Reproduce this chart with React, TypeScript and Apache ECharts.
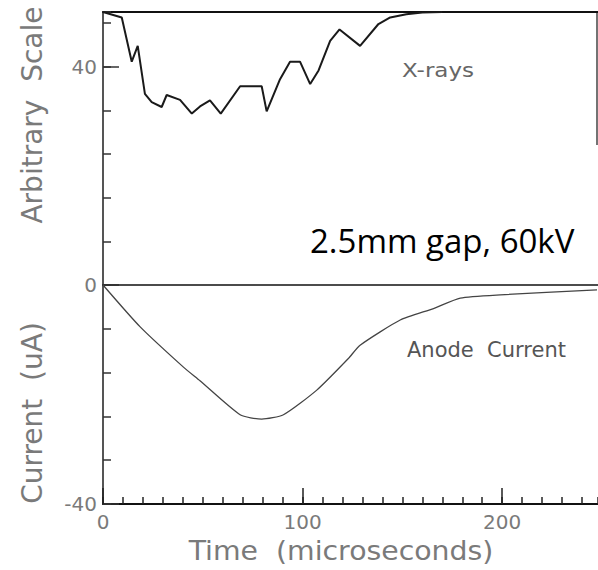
import React, { useEffect, useRef } from "react";
import * as echarts from "echarts";

// X-rays (arbitrary scale) vs time (microseconds)
const xrayTime = [0, 9.4, 14.4, 17.4, 21, 24.4, 29.4, 31.9, 38.6, 44.5, 48.6, 53.6, 59, 68.7, 79.5, 82, 88.7, 93.7, 98.7, 103.8, 108, 113.8, 118.5, 128.8, 138, 143.9, 152, 160, 170];
const xrayValue = [50, 49.0, 40.9, 43.8, 35.0, 33.5, 32.6, 34.8, 33.9, 31.4, 32.7, 33.8, 31.4, 36.4, 36.4, 31.8, 37.7, 40.9, 40.9, 36.8, 39.3, 44.7, 46.8, 43.8, 47.8, 49.0, 49.6, 49.9, 50];

// Anode current (uA) vs time (microseconds)
const currentTime = [0, 18.5, 40.3, 48.6, 68.7, 79.5, 90.4, 107.1, 123, 128.8, 148.9, 165.6, 179, 199, 247.5];
const currentValue = [0, -7.6, -15.0, -17.5, -23.7, -24.5, -23.7, -19.2, -13.4, -11.0, -6.4, -4.3, -2.4, -1.8, -0.9];

const xMin = 0;
const xMax = 248;
const upperY = [0, 50];
const lowerY = [-40, 0];
const upperLabels = [40];
const lowerLabels = [0, -40];
const xLabels = [0, 100, 200];

const labelColor = "#7a7a7a";
const labelFont = "DejaVu Sans";

export default function App() {
  const ref = useRef<HTMLDivElement>(null);

  useEffect(() => {
    if (!ref.current) return;
    const chart = echarts.init(ref.current, null, { renderer: "svg" });

    const hiddenAxisBase = {
      axisLabel: { show: false },
      splitLine: { show: false },
    };

    const option: any = {
      animation: false,
      backgroundColor: "#ffffff",
      grid: [
        { left: 103, top: 12, width: 495, height: 273 },
        { left: 103, top: 285, width: 495, height: 219 },
      ],
      xAxis: [
        {
          type: "value", gridIndex: 0, position: "top", min: xMin, max: xMax,
          axisLine: { onZero: false, lineStyle: { color: "#111", width: 2 } },
          axisTick: { show: false }, ...hiddenAxisBase,
        },
        {
          type: "value", gridIndex: 0, position: "bottom", min: xMin, max: xMax,
          axisLine: { onZero: false, lineStyle: { color: "#111", width: 1.5 } },
          axisTick: { show: false }, ...hiddenAxisBase,
        },
        {
          type: "value", gridIndex: 1, position: "bottom", min: xMin, max: xMax, interval: 100,
          axisLine: { onZero: false, lineStyle: { color: "#111", width: 2 } },
          axisTick: { show: true, inside: true, length: 16, lineStyle: { color: "#222", width: 1.5 } },
          axisLabel: {
            show: true, margin: 8, color: labelColor, fontFamily: labelFont, fontSize: 20,
            showMaxLabel: false,
            formatter: (v: number) => (xLabels.includes(v) ? String(v) : ""),
          },
          splitLine: { show: false },
        },
        {
          type: "value", gridIndex: 1, position: "bottom", min: xMin, max: xMax, interval: 10,
          axisLine: { show: false, onZero: false },
          axisTick: { show: true, inside: true, length: 7, lineStyle: { color: "#222", width: 1.5 } },
          ...hiddenAxisBase,
        },
      ],
      yAxis: [
        {
          type: "value", gridIndex: 0, position: "left", min: upperY[0], max: upperY[1], interval: 40,
          axisLine: { show: true, onZero: false, lineStyle: { color: "#555", width: 2 } },
          axisTick: { show: true, inside: true, length: 16, lineStyle: { color: "#333", width: 1.5 } },
          axisLabel: {
            show: true, margin: 6, color: labelColor, fontFamily: labelFont, fontSize: 20,
            showMaxLabel: false,
            formatter: (v: number) => (upperLabels.includes(v) ? String(v) : ""),
          },
          splitLine: { show: false },
        },
        {
          type: "value", gridIndex: 0, position: "left", min: upperY[0], max: upperY[1], interval: 8,
          axisLine: { show: false, onZero: false },
          axisTick: { show: true, inside: true, length: 8, lineStyle: { color: "#333", width: 1.5 } },
          ...hiddenAxisBase,
        },
        {
          type: "value", gridIndex: 1, position: "left", min: lowerY[0], max: lowerY[1], interval: 40,
          axisLine: { show: true, onZero: false, lineStyle: { color: "#555", width: 2 } },
          axisTick: { show: true, inside: true, length: 16, lineStyle: { color: "#333", width: 1.5 } },
          axisLabel: {
            show: true, margin: 6, color: labelColor, fontFamily: labelFont, fontSize: 20,
            formatter: (v: number) => (lowerLabels.includes(v) ? String(v) : ""),
          },
          splitLine: { show: false },
        },
        {
          type: "value", gridIndex: 1, position: "left", min: lowerY[0], max: lowerY[1], interval: 8,
          axisLine: { show: false, onZero: false },
          axisTick: { show: true, inside: true, length: 8, lineStyle: { color: "#333", width: 1.5 } },
          ...hiddenAxisBase,
        },
      ],
      series: [
        {
          name: "X-rays", type: "line", xAxisIndex: 0, yAxisIndex: 0,
          data: xrayTime.map((t, i) => [t, xrayValue[i]]),
          showSymbol: false, symbol: "none",
          lineStyle: { color: "#1a1a1a", width: 2 },
        },
        {
          name: "Anode Current", type: "line", xAxisIndex: 2, yAxisIndex: 2,
          data: currentTime.map((t, i) => [t, currentValue[i]]),
          showSymbol: false, symbol: "none", smooth: 0.2,
          lineStyle: { color: "#444", width: 1.3 },
        },
      ],
      graphic: [
        {
          type: "line", shape: { x1: 597, y1: 12, x2: 597, y2: 145 },
          style: { stroke: "#444", lineWidth: 1.5 },
        },
        {
          type: "text", x: 32, y: 115, rotation: Math.PI / 2,
          style: {
            text: "Arbitrary  Scale", fill: labelColor, font: `28px ${labelFont}`,
            textAlign: "center", textVerticalAlign: "middle",
          },
        },
        {
          type: "text", x: 32, y: 413, rotation: Math.PI / 2,
          style: {
            text: "Current  (uA)", fill: labelColor, font: `28px ${labelFont}`,
            textAlign: "center", textVerticalAlign: "middle",
          },
        },
        {
          type: "text", x: 341, y: 551, scaleX: 1.05,
          style: {
            text: "Time  (microseconds)", fill: labelColor, font: `27px ${labelFont}`,
            textAlign: "center", textVerticalAlign: "middle",
          },
        },
        {
          type: "text", x: 402, y: 70, scaleX: 1.15,
          style: {
            text: "X-rays", fill: "#666", font: `20px ${labelFont}`,
            textAlign: "left", textVerticalAlign: "middle",
          },
        },
        {
          type: "text", x: 407, y: 350,
          style: {
            text: "Anode  Current", fill: "#555", font: `21px ${labelFont}`,
            textAlign: "left", textVerticalAlign: "middle",
          },
        },
        {
          type: "text", x: 310, y: 240,
          style: {
            text: "2.5mm gap, 60kV", fill: "#000", font: `33px "Open Sans"`,
            textAlign: "left", textVerticalAlign: "middle",
          },
        },
      ],
    };

    chart.setOption(option);
    return () => chart.dispose();
  }, []);

  return (
    <div
      ref={ref}
      style={{ position: "absolute", left: 0, top: 0, width: 598, height: 570 }}
    />
  );
}
